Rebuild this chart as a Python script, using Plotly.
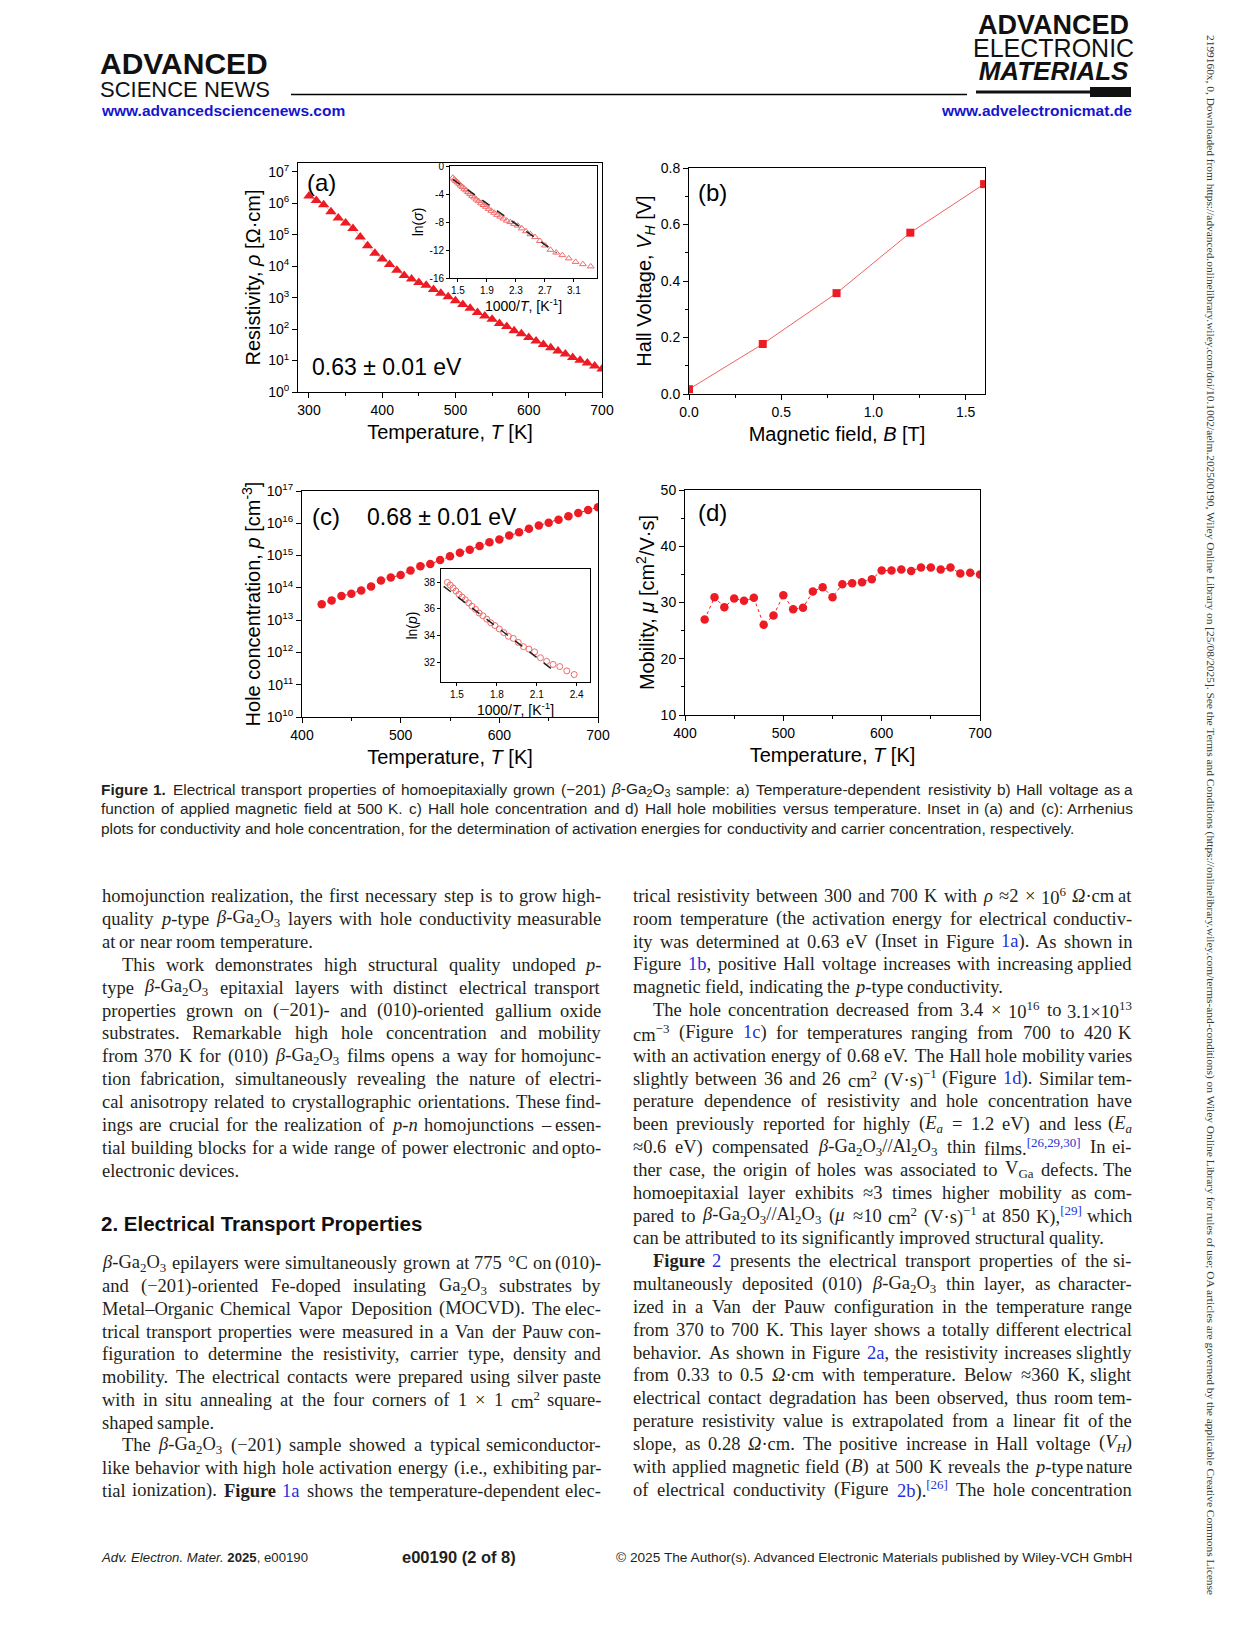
import plotly.graph_objects as go

W, H = 1241, 1630

# ---------------- data ----------------
T_a = [300, 310, 320, 330, 340, 350, 360, 370, 380, 390, 400, 410, 420, 430, 440, 450, 460,
       470, 480, 490, 500, 510, 520, 530, 540, 550, 560, 570, 580, 590, 600, 610, 620, 630,
       640, 650, 660, 670, 680, 690, 700]
log_rho_a = [6.23, 6.09, 5.95, 5.73, 5.53, 5.37, 5.20, 4.93, 4.65, 4.41, 4.23, 4.05, 3.87,
             3.70, 3.59, 3.48, 3.39, 3.26, 3.14, 3.03, 2.90, 2.78, 2.66, 2.53, 2.42, 2.31,
             2.18, 2.08, 1.95, 1.85, 1.73, 1.62, 1.51, 1.41, 1.30, 1.21, 1.10, 1.01, 0.92,
             0.83, 0.73]
fit_a_x = [1.43, 2.86]
fit_a_y = [-1.9, -12.4]

B_b = [0.0, 0.4, 0.8, 1.2, 1.6]
VH_b = [0.017, 0.177, 0.357, 0.571, 0.743]

T_c = [420, 430, 440, 450, 460, 470, 480, 490, 500, 510, 520, 530, 540, 550, 560, 570, 580,
       590, 600, 610, 620, 630, 640, 650, 660, 670, 680, 690, 700]
log_p_c = [13.49, 13.61, 13.75, 13.82, 13.92, 14.04, 14.23, 14.32, 14.40, 14.54, 14.67, 14.74,
           14.86, 14.98, 15.09, 15.18, 15.30, 15.41, 15.50, 15.62, 15.72, 15.83, 15.93, 16.02,
           16.11, 16.22, 16.32, 16.41, 16.50]
fit_c_x = [1.40, 2.21]
fit_c_y = [37.7, 31.5]

T_d = T_c
mu_d = [26.98, 30.95, 29.17, 30.71, 30.30, 30.83, 26.04, 27.69, 31.30, 28.82, 29.05, 31.95,
        32.72, 30.95, 33.25, 33.43, 33.61, 34.14, 35.68, 35.68, 35.86, 35.62, 36.21, 36.21,
        35.86, 36.21, 35.15, 35.27, 34.97]

LN10 = 2.302585
rho_a = [10 ** v for v in log_rho_a]
inset_a_x = [1000.0 / t for t in T_a]
inset_a_y = [-v * LN10 for v in log_rho_a]
p_c = [10 ** v for v in log_p_c]
inset_c_x = [1000.0 / t for t in T_c]
inset_c_y = [v * LN10 for v in log_p_c]

# ---------------- styling ----------------
SANS = "Liberation Sans, Arial, sans-serif"
SERIF = "Liberation Serif, Times New Roman, serif"
RED = "#ed1c24"
PINK = "#f06a6a"
BLUE = "#2430d8"
TXT = "#231f20"


def dx(l, r):
    return [l / W, r / W]


def dy(t, b):
    return [1 - b / H, 1 - t / H]


fig = go.Figure()

# (a) main
fig.add_trace(go.Scatter(x=T_a, y=rho_a, mode="markers+lines", xaxis="x", yaxis="y",
                         line=dict(color="#f4a0a0", width=0.8),
                         marker=dict(symbol="triangle-up", size=10, color=RED)))
# (a) inset
fig.add_trace(go.Scatter(x=inset_a_x, y=inset_a_y, mode="markers", xaxis="x2", yaxis="y2",
                         marker=dict(symbol="triangle-up-open", size=6, color=PINK,
                                     line=dict(width=1, color=PINK))))
fig.add_trace(go.Scatter(x=fit_a_x, y=fit_a_y, mode="lines", xaxis="x2", yaxis="y2",
                         line=dict(color="#222", width=1.5, dash="dash")))
# (b)
fig.add_trace(go.Scatter(x=B_b, y=VH_b, mode="markers+lines", xaxis="x3", yaxis="y3",
                         line=dict(color="#f26060", width=1),
                         marker=dict(symbol="square", size=8, color=RED)))
# (c) main
fig.add_trace(go.Scatter(x=T_c, y=p_c, mode="markers+lines", xaxis="x4", yaxis="y4",
                         line=dict(color=RED, width=1, dash="dot"),
                         marker=dict(symbol="circle", size=8.5, color=RED)))
# (c) inset
fig.add_trace(go.Scatter(x=inset_c_x, y=inset_c_y, mode="markers", xaxis="x5", yaxis="y5",
                         marker=dict(symbol="circle-open", size=6, color=PINK,
                                     line=dict(width=1, color=PINK))))
fig.add_trace(go.Scatter(x=fit_c_x, y=fit_c_y, mode="lines", xaxis="x5", yaxis="y5",
                         line=dict(color="#222", width=1.5, dash="dash")))
# (d)
fig.add_trace(go.Scatter(x=T_d, y=mu_d, mode="markers+lines", xaxis="x6", yaxis="y6",
                         line=dict(color=RED, width=1, dash="dot"),
                         marker=dict(symbol="circle", size=8.5, color=RED)))


def axis(domain, anchor, rng, title="", tsize=14, titlesize=20, standoff=6, **kw):
    d = dict(domain=domain, anchor=anchor, range=rng, showline=True, linecolor="black",
             linewidth=1, mirror=True, ticks="outside", ticklen=5, tickwidth=1,
             tickcolor="black", showgrid=False, zeroline=False, automargin=False,
             tickfont=dict(family=SANS, size=tsize, color="black"),
             title=dict(text=title, font=dict(family=SANS, size=titlesize, color="black"),
                        standoff=standoff))
    d.update(kw)
    return d


dec_a = [10 ** k for k in range(0, 8)]
dec_a_txt = ["10<sup>%d</sup>" % k for k in range(0, 8)]
dec_c = [10 ** k for k in range(10, 18)]
dec_c_txt = ["10<sup>%d</sup>" % k for k in range(10, 18)]

layout = dict(
    width=W, height=H, margin=dict(l=0, r=0, t=0, b=0, pad=0, autoexpand=False),
    showlegend=False, paper_bgcolor="white", plot_bgcolor="white",
    # (a)
    xaxis=axis(dx(298, 602), "y", [285, 700], "Temperature, <i>T</i> [K]", standoff=8,
               tickvals=[300, 400, 500, 600, 700],
               minor=dict(ticks="outside", ticklen=3, dtick=50, tickcolor="black")),
    yaxis=axis(dy(163, 392), "x", [0, 7.28], "Resistivity, <i>ρ</i> [Ω·cm]", standoff=2,
               type="log", tickvals=dec_a, ticktext=dec_a_txt),
    # (a) inset
    xaxis2=axis(dx(450, 597), "y2", [1.39, 3.42], "1000/<i>T</i>, [K<sup>-1</sup>]",
                tsize=10, titlesize=14, standoff=2, ticklen=3,
                tickvals=[1.5, 1.9, 2.3, 2.7, 3.1]),
    yaxis2=axis(dy(166, 278), "x2", [-16, 0], "ln(<i>σ</i>)", tsize=10, titlesize=14,
                standoff=2, ticklen=3, tickvals=[0, -4, -8, -12, -16],
                ticktext=["0", "-4", "-8", "-12", "-16"]),
    # (b)
    xaxis3=axis(dx(689, 985), "y3", [0, 1.605], "Magnetic field, <i>B</i> [T]", standoff=8,
                tickvals=[0, 0.5, 1.0, 1.5], ticktext=["0.0", "0.5", "1.0", "1.5"],
                minor=dict(ticks="outside", ticklen=3, dtick=0.25, tickcolor="black")),
    yaxis3=axis(dy(168, 394), "x3", [0, 0.8], "Hall Voltage, <i>V<sub>H</sub></i> [V]",
                standoff=3, tickvals=[0, 0.2, 0.4, 0.6, 0.8],
                ticktext=["0.0", "0.2", "0.4", "0.6", "0.8"],
                minor=dict(ticks="outside", ticklen=3, dtick=0.1, tickcolor="black")),
    # (c)
    xaxis4=axis(dx(302, 598), "y4", [400, 700], "Temperature, <i>T</i> [K]", standoff=8,
                tickvals=[400, 500, 600, 700],
                minor=dict(ticks="outside", ticklen=3, dtick=50, tickcolor="black")),
    yaxis4=axis(dy(491, 717), "x4", [10, 17], "Hole concentration, <i>p</i> [cm<sup>-3</sup>]",
                standoff=0, type="log", tickvals=dec_c, ticktext=dec_c_txt),
    # (c) inset
    xaxis5=axis(dx(441, 590), "y5", [1.38, 2.5], "1000/<i>T</i>, [K<sup>-1</sup>]",
                tsize=10, titlesize=14, standoff=2, ticklen=3,
                tickvals=[1.5, 1.8, 2.1, 2.4]),
    yaxis5=axis(dy(569, 682), "x5", [30.5, 39], "ln(<i>p</i>)", tsize=10, titlesize=14,
                standoff=2, ticklen=3, tickvals=[32, 34, 36, 38]),
    # (d)
    xaxis6=axis(dx(685, 980), "y6", [400, 700], "Temperature, <i>T</i> [K]", standoff=8,
                tickvals=[400, 500, 600, 700],
                minor=dict(ticks="outside", ticklen=3, dtick=50, tickcolor="black")),
    yaxis6=axis(dy(490, 715), "x6", [10, 50],
                "Mobility, <i>μ</i> [cm<sup>2</sup>/V·s]", standoff=0,
                tickvals=[10, 20, 30, 40, 50],
                minor=dict(ticks="outside", ticklen=3, dtick=5, tickcolor="black")),
)
fig.update_layout(**layout)

annots = []
shapes = []


def txt(x, y, text, size, family=SANS, color=TXT, xanchor="left", yanchor="middle",
        angle=0, align="left"):
    annots.append(dict(x=x / W, y=1 - y / H, xref="paper", yref="paper", text=text,
                       showarrow=False, xanchor=xanchor, yanchor=yanchor, borderpad=0,
                       textangle=angle, align=align,
                       font=dict(family=family, size=size, color=color)))


# panel labels
txt(306, 182, "(a)", 24, color="black")
txt(311, 367, "0.63 ± 0.01 eV", 23, color="black")
txt(697, 193, "(b)", 24, color="black")
txt(311, 517, "(c)", 24, color="black")
txt(366, 517, "0.68 ± 0.01 eV", 23, color="black")
txt(697, 513, "(d)", 24, color="black")

# ---------------- header ----------------
txt(99, 75, "<span style='font-size:30px'><b>ADVANCED</b></span><br>"
    "<span style='font-size:22px'>SCIENCE NEWS</span>", 17.7, color="#111")
shapes.append(dict(type="line", xref="paper", yref="paper", x0=291 / W, x1=967 / W,
                   y0=1 - 94.5 / H, y1=1 - 94.5 / H, line=dict(color="black", width=1.5)))
txt(100, 110, "<b>www.advancedsciencenews.com</b>", 15.5, color="#1515d0")
txt(1133, 110, "<b>www.advelectronicmat.de</b>", 15.5, color="#1515d0", xanchor="right")
txt(1053, 48, "<span style='font-size:27px'><b>ADVANCED</b></span><br>"
    "<span style='font-size:25px'>ELECTRONIC</span><br>"
    "<span style='font-size:26px'><b><i>MATERIALS</i></b></span>", 17.7, color="#111",
    xanchor="center", align="center")
shapes.append(dict(type="line", xref="paper", yref="paper", x0=976 / W, x1=1092 / W,
                   y0=1 - 92 / H, y1=1 - 92 / H, line=dict(color="#111", width=3)))
shapes.append(dict(type="rect", xref="paper", yref="paper", x0=1090 / W, x1=1131 / W,
                   y0=1 - 97 / H, y1=1 - 87 / H, fillcolor="#111", line=dict(width=0)))

# ---------------- text layout helpers ----------------
TIMES = {' ': 250, '.': 250, ',': 250, '-': 333, '(': 333, ')': 333, '[': 333, ']': 333,
         '/': 278, ':': 278, ';': 278, '=': 564, '×': 564, '≈': 549, '−': 564, '–': 500,
         'β': 549, 'ρ': 549, 'Ω': 768, 'μ': 576, '·': 250, '°': 400, '©': 760}
for c, w in zip("abcdefghijklmnopqrstuvwxyz",
                [444, 500, 444, 500, 444, 333, 500, 500, 278, 278, 500, 278, 778, 500, 500,
                 500, 500, 333, 389, 278, 500, 500, 722, 500, 500, 444]):
    TIMES[c] = w
for c, w in zip("ABCDEFGHIJKLMNOPQRSTUVWXYZ",
                [722, 667, 667, 722, 611, 556, 722, 722, 333, 389, 722, 611, 889, 722, 722,
                 556, 722, 667, 556, 611, 722, 722, 944, 722, 722, 611]):
    TIMES[c] = w
for c in "0123456789":
    TIMES[c] = 500
ARIAL = {' ': 278, '.': 278, ',': 278, '-': 333, '(': 333, ')': 333, ':': 278, '/': 278,
         '−': 584, '–': 556, 'β': 575}
for c, w in zip("abcdefghijklmnopqrstuvwxyz",
                [556, 556, 500, 556, 556, 278, 556, 556, 222, 222, 500, 222, 833, 556, 556,
                 556, 556, 333, 500, 278, 556, 500, 722, 500, 500, 500]):
    ARIAL[c] = w
for c, w in zip("ABCDEFGHIJKLMNOPQRSTUVWXYZ",
                [667, 667, 722, 722, 667, 611, 778, 722, 278, 500, 667, 556, 833, 722, 778,
                 667, 778, 722, 667, 611, 722, 667, 944, 667, 667, 611]):
    ARIAL[c] = w
for c in "0123456789":
    ARIAL[c] = 556


def split_words(line):
    words, cur, depth = [], "", 0
    for ch in line:
        if ch == "<":
            depth += 1
        elif ch == ">":
            depth -= 1
        if ch == " " and depth == 0:
            if cur:
                words.append(cur)
            cur = ""
        else:
            cur += ch
    if cur:
        words.append(cur)
    return words


def wwidth(word, table, size):
    tot, stack, bold, ital, i = 0.0, 0, 0, 0, 0
    while i < len(word):
        if word[i] == "<":
            j = word.index(">", i)
            tag = word[i + 1:j].strip().lower()
            if tag in ("sub", "sup"):
                stack += 1
            elif tag in ("/sub", "/sup"):
                stack -= 1
            elif tag == "b":
                bold += 1
            elif tag == "/b":
                bold -= 1
            elif tag == "i":
                ital += 1
                tot += 40
            elif tag == "/i":
                ital -= 1
            i = j + 1
            continue
        s = 0.7 if stack else 1.0
        if bold:
            s *= 1.06
        tot += table.get(word[i], 500) * s
        i += 1
    return tot / 1000.0 * size


def place_line(text, x0, x1, y, size, family, table, justify, indent=0, color=TXT):
    words = split_words(text)
    ws = [wwidth(w, table, size) for w in words]
    start = x0 + indent
    space = table[" "] / 1000.0 * size
    anchor_last = False
    if justify and len(words) > 1:
        gap = (x1 - start - sum(ws)) / (len(words) - 1)
        if gap >= space * 0.8:
            anchor_last = True
        else:
            gap = space * 0.8
    else:
        gap = space
    x = start
    for k, (w, wd) in enumerate(zip(words, ws)):
        if anchor_last and k == len(words) - 1:
            txt(x1, y, w, size, family, color, xanchor="right")
        else:
            txt(x, y, w, size, family, color)
        x += wd + gap


def bl(s):
    return "<span style='color:%s'>%s</span>" % (BLUE, s)


BGO = "<i>β</i>-Ga<sub>2</sub>O<sub>3</sub>"
GO = "Ga<sub>2</sub>O<sub>3</sub>"
AO = "Al<sub>2</sub>O<sub>3</sub>"

# ---------------- caption ----------------
caption = [
    ("<b>Figure</b> <b>1.</b> Electrical transport properties of homoepitaxially grown (−201) "
     + BGO + " sample: a) Temperature-dependent resistivity b) Hall voltage as a", True),
    ("function of applied magnetic field at 500 K. c) Hall hole concentration and d) Hall hole "
     "mobilities versus temperature. Inset in (a) and (c): Arrhenius", True),
    ("plots for conductivity and hole concentration, for the determination of activation "
     "energies for conductivity and carrier concentration, respectively.", False),
]
for i, (line, j) in enumerate(caption):
    place_line(line, 100, 1134, 789 + 19.7 * i, 15.4, SANS, ARIAL, j)

# ---------------- body text ----------------
IND = 20
left1 = [
    ("homojunction realization, the first necessary step is to grow high-", 0, True),
    ("quality <i>p</i>-type " + BGO + " layers with hole conductivity measurable", 0, True),
    ("at or near room temperature.", 0, False),
    ("This work demonstrates high structural quality undoped <i>p</i>-", IND, True),
    ("type " + BGO + " epitaxial layers with distinct electrical transport", 0, True),
    ("properties grown on (−201)- and (010)-oriented gallium oxide", 0, True),
    ("substrates. Remarkable high hole concentration and mobility", 0, True),
    ("from 370 K for (010) " + BGO + " films opens a way for homojunc-", 0, True),
    ("tion fabrication, simultaneously revealing the nature of electri-", 0, True),
    ("cal anisotropy related to crystallographic orientations. These find-", 0, True),
    ("ings are crucial for the realization of <i>p-n</i> homojunctions – essen-", 0, True),
    ("tial building blocks for a wide range of power electronic and opto-", 0, True),
    ("electronic devices.", 0, False),
]
left2 = [
    (BGO + " epilayers were simultaneously grown at 775 °C on (010)-", 0, True),
    ("and (−201)-oriented Fe-doped insulating " + GO + " substrates by", 0, True),
    ("Metal–Organic Chemical Vapor Deposition (MOCVD). The elec-", 0, True),
    ("trical transport properties were measured in a Van der Pauw con-", 0, True),
    ("figuration to determine the resistivity, carrier type, density and", 0, True),
    ("mobility. The electrical contacts were prepared using silver paste", 0, True),
    ("with in situ annealing at the four corners of 1 × 1 cm<sup>2</sup> square-", 0, True),
    ("shaped sample.", 0, False),
    ("The " + BGO + " (−201) sample showed a typical semiconductor-", IND, True),
    ("like behavior with high hole activation energy (i.e., exhibiting par-", 0, True),
    ("tial ionization). <b>Figure</b> " + bl("1a") + " shows the temperature-dependent elec-",
     0, True),
]
right = [
    ("trical resistivity between 300 and 700 K with <i>ρ</i> ≈2 × 10<sup>6</sup> <i>Ω</i>·cm at",
     0, True),
    ("room temperature (the activation energy for electrical conductiv-", 0, True),
    ("ity was determined at 0.63 eV (Inset in Figure " + bl("1a") + "). As shown in", 0, True),
    ("Figure " + bl("1b") + ", positive Hall voltage increases with increasing applied", 0, True),
    ("magnetic field, indicating the <i>p</i>-type conductivity.", 0, False),
    ("The hole concentration decreased from 3.4 × 10<sup>16</sup> to 3.1×10<sup>13</sup>",
     IND, True),
    ("cm<sup>−3</sup> (Figure " + bl("1c") + ") for temperatures ranging from 700 to 420 K",
     0, True),
    ("with an activation energy of 0.68 eV. The Hall hole mobility varies", 0, True),
    ("slightly between 36 and 26 cm<sup>2</sup> (V·s)<sup>−1</sup> (Figure " + bl("1d")
     + "). Similar tem-", 0, True),
    ("perature dependence of resistivity and hole concentration have", 0, True),
    ("been previously reported for highly (<i>E<sub>a</sub></i> = 1.2 eV) and less "
     "(<i>E<sub>a</sub></i>", 0, True),
    ("≈0.6 eV) compensated " + BGO + "//" + AO + " thin films.<sup>" + bl("[26,29,30]")
     + "</sup> In ei-", 0, True),
    ("ther case, the origin of holes was associated to V<sub>Ga</sub> defects. The", 0, True),
    ("homoepitaxial layer exhibits ≈3 times higher mobility as com-", 0, True),
    ("pared to " + BGO + "//" + AO + " (<i>μ</i> ≈10 cm<sup>2</sup> (V·s)<sup>−1</sup> at 850 "
     "K),<sup>" + bl("[29]") + "</sup> which", 0, True),
    ("can be attributed to its significantly improved structural quality.", 0, False),
    ("<b>Figure</b> " + bl("2") + " presents the electrical transport properties of the si-",
     IND, True),
    ("multaneously deposited (010) " + BGO + " thin layer, as character-", 0, True),
    ("ized in a Van der Pauw configuration in the temperature range", 0, True),
    ("from 370 to 700 K. This layer shows a totally different electrical", 0, True),
    ("behavior. As shown in Figure " + bl("2a") + ", the resistivity increases slightly", 0,
     True),
    ("from 0.33 to 0.5 <i>Ω</i>·cm with temperature. Below ≈360 K, slight", 0, True),
    ("electrical contact degradation has been observed, thus room tem-", 0, True),
    ("perature resistivity value is extrapolated from a linear fit of the", 0, True),
    ("slope, as 0.28 <i>Ω</i>·cm. The positive increase in Hall voltage "
     "(<i>V<sub>H</sub></i>)", 0, True),
    ("with applied magnetic field (<i>B</i>) at 500 K reveals the <i>p</i>-type nature", 0,
     True),
    ("of electrical conductivity (Figure " + bl("2b") + ").<sup>" + bl("[26]")
     + "</sup> The hole concentration", 0, True),
]
BS = 18.5
for i, (line, ind, j) in enumerate(left1):
    place_line(line, 100.5, 602, 896 + 22.9 * i, BS, SERIF, TIMES, j, ind)
for i, (line, ind, j) in enumerate(left2):
    place_line(line, 100.5, 602, 1263.3 + 22.75 * i, BS, SERIF, TIMES, j, ind)
for i, (line, ind, j) in enumerate(right):
    place_line(line, 632, 1133, 896 + 22.83 * i, BS, SERIF, TIMES, j, ind)

txt(100, 1223, "<b>2. Electrical Transport Properties</b>", 20.5, color="#111")

# ---------------- footer ----------------
txt(100, 1557, "<i>Adv. Electron. Mater.</i> <b>2025</b>, e00190", 13.2)
txt(459, 1557, "<b>e00190 (2 of 8)</b>", 16.5, xanchor="center")
txt(1134, 1557, "© 2025 The Author(s). Advanced Electronic Materials published by "
    "Wiley-VCH GmbH", 13.7, xanchor="right")

# ---------------- vertical side note ----------------
txt(1211, 815, "2199160x, 0, Downloaded from https://advanced.onlinelibrary.wiley.com/doi/"
    "10.1002/aelm.202500190, Wiley Online Library on [25/08/2025]. See the Terms and "
    "Conditions (https://onlinelibrary.wiley.com/terms-and-conditions) on Wiley Online "
    "Library for rules of use; OA articles are governed by the applicable Creative Commons "
    "License", 11.4, SERIF, "#333", xanchor="center", angle=90)

fig.update_layout(annotations=annots, shapes=shapes)
fig.write_html("out.html", config={"displayModeBar": False},
               post_script="document.body.style.margin='0';")
